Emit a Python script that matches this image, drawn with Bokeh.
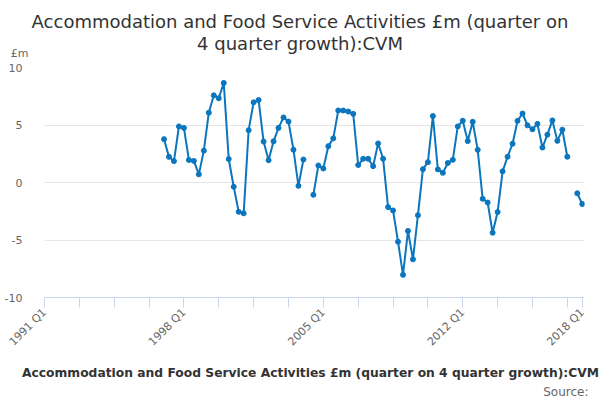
import numpy as np
from bokeh.plotting import figure
from bokeh.layouts import column
from bokeh.models import Range1d, FixedTicker, Label, Legend, LegendItem, ColumnDataSource
from bokeh.embed import file_html
from bokeh.resources import INLINE

TITLE_LINE1 = "Accommodation and Food Service Activities £m (quarter on"
TITLE_LINE2 = "4 quarter growth):CVM"
SERIES_NAME = "Accommodation and Food Service Activities £m (quarter on 4 quarter growth):CVM"
UNIT = "£m"
SOURCE = "Source:"

AXIS_START = "1991 Q1"
AXIS_END = "2018 Q1"
FIRST_QUARTER = "1997 Q1"

values = [3.77, 2.23, 1.86, 4.88, 4.75, 1.96, 1.88, 0.71, 2.77, 6.07,
          7.58, 7.33, 8.66, 2.04, -0.37, -2.55, -2.68, 4.55, 6.97, 7.17,
          3.56, 1.94, 3.58, 4.75, 5.66, 5.30, 2.85, -0.29, 2.00, None,
          -1.07, 1.48, 1.22, 3.16, 3.84, 6.27, 6.26, 6.17, 5.97, 1.52,
          2.06, 2.06, 1.42, 3.40, 2.06, -2.14, -2.43, -5.15, -8.03, -4.21,
          -6.68, -2.84, 1.16, 1.77, 5.78, 1.14, 0.84, 1.70, 1.97, 4.88,
          5.37, 3.60, 5.28, 2.84, -1.42, -1.74, -4.37, -2.57, 0.97, 2.24,
          3.37, 5.36, 6.00, 4.97, 4.63, 5.10, 3.04, 4.16, 5.40, 3.62,
          4.59, 2.24, None, -0.94, -1.87]

tick_labels = ["1991 Q1", "1998 Q1", "2005 Q1", "2012 Q1", "2018 Q1"]
tick_step_quarters = 7
y_ticks = [-10, -5, 0, 5, 10]


def qindex(label):
    yr, q = label.split(" Q")
    return (int(yr) - 1991) * 4 + int(q) - 1


def qlabel(idx):
    return f"{1991 + idx // 4} Q{idx % 4 + 1}"


start = qindex(FIRST_QUARTER)
quarters = [qlabel(start + i) for i in range(len(values))]
xs = [qindex(q) for q in quarters]
ys = [np.nan if v is None else v for v in values]
src = ColumnDataSource(dict(x=xs, y=ys, q=quarters))

end_idx = qindex(AXIS_END)
FONT = "DejaVu Sans"
BLUE = "#0b76bd"
W = 600
TOP_H = 60
MAIN_H = 296
BOT_H = 400 - TOP_H - MAIN_H


def blank(height, y_range):
    f = figure(width=W, height=height, output_backend="svg", toolbar_location=None,
               x_range=Range1d(0, W), y_range=y_range,
               x_axis_type=None, y_axis_type=None,
               min_border=0, min_border_left=0, min_border_right=0,
               min_border_top=0, min_border_bottom=0, frame_align=False)
    f.outline_line_color = None
    f.xgrid.visible = False
    f.ygrid.visible = False
    f.background_fill_color = "white"
    f.border_fill_color = "white"
    return f


# ---- header: title and unit ----
top = blank(TOP_H, Range1d(TOP_H, 0))
for txt, yb in ((TITLE_LINE1, 20.5), (TITLE_LINE2, 42.5)):
    top.add_layout(Label(x=299.5, y=yb, text=txt, text_align="center",
                         text_baseline="alphabetic", text_font=FONT,
                         text_font_size="18px", text_color="#333333"))
top.add_layout(Label(x=28, y=52.5, text=UNIT, text_align="right",
                     text_baseline="alphabetic", text_font=FONT,
                     text_font_size="11px", text_color="#666666"))

# ---- main chart ----
p = figure(width=W, height=MAIN_H, output_backend="svg", toolbar_location=None,
           x_range=Range1d(qindex(AXIS_START), end_idx + 0.45),
           y_range=Range1d(-10, 10),
           min_border_left=44, min_border_right=16,
           min_border_top=7, min_border_bottom=MAIN_H - 7 - 231,
           frame_align=False)
p.outline_line_color = None
p.background_fill_color = "white"
p.border_fill_color = "white"

all_ticks = list(range(0, end_idx, tick_step_quarters)) + [end_idx]
p.xaxis.ticker = FixedTicker(ticks=all_ticks)
p.xaxis.major_label_overrides = {t: (qlabel(t) if qlabel(t) in tick_labels else "")
                                 for t in all_ticks}
p.xaxis.axis_line_color = "#ccd6eb"
p.xaxis.major_tick_line_color = "#ccd6eb"
p.xaxis.major_tick_out = 10
p.xaxis.major_tick_in = 0
p.xaxis.minor_tick_line_color = None
p.xaxis.major_label_orientation = np.pi / 4
p.xaxis.major_label_text_font = FONT
p.xaxis.major_label_text_font_size = "11px"
p.xaxis.major_label_text_color = "#666666"
p.xaxis.major_label_standoff = 3
p.xgrid.visible = False

p.yaxis.ticker = FixedTicker(ticks=y_ticks)
p.yaxis.major_label_overrides = {t: str(t) for t in y_ticks}
p.yaxis.axis_line_color = None
p.yaxis.major_tick_line_color = None
p.yaxis.minor_tick_line_color = None
p.yaxis.major_label_text_font = FONT
p.yaxis.major_label_text_font_size = "11px"
p.yaxis.major_label_text_color = "#666666"
p.yaxis.major_label_standoff = 16
p.ygrid.ticker = FixedTicker(ticks=y_ticks)
p.ygrid.grid_line_color = "#e6e6e6"

p.line("x", "y", source=src, line_color=BLUE, line_width=2)
p.scatter("x", "y", source=src, size=5, fill_color=BLUE, line_color=BLUE)

# ---- footer: legend and source ----
bot = blank(BOT_H, Range1d(0, BOT_H))
lg_line = bot.line(x=[], y=[], line_color=BLUE, line_width=2)
lg_dot = bot.scatter(x=[], y=[], size=5, fill_color=BLUE, line_color=BLUE)
legend = Legend(items=[LegendItem(label=SERIES_NAME, renderers=[lg_line, lg_dot])],
                location=(2, 20), orientation="horizontal",
                padding=0, margin=0, spacing=0,
                glyph_width=18, glyph_height=14, label_height=14,
                label_standoff=2,
                label_text_font=FONT, label_text_font_size="12.3px",
                label_text_font_style="bold", label_text_color="#333333",
                background_fill_alpha=0, border_line_color=None)
bot.add_layout(legend, "center")
bot.add_layout(Label(x=588, y=9, text=SOURCE, text_align="right",
                     text_baseline="alphabetic", text_font=FONT,
                     text_font_size="12px", text_color="#666666"))

layout = column(top, p, bot, spacing=0)
open("out.html", "w").write(file_html(layout, INLINE))
